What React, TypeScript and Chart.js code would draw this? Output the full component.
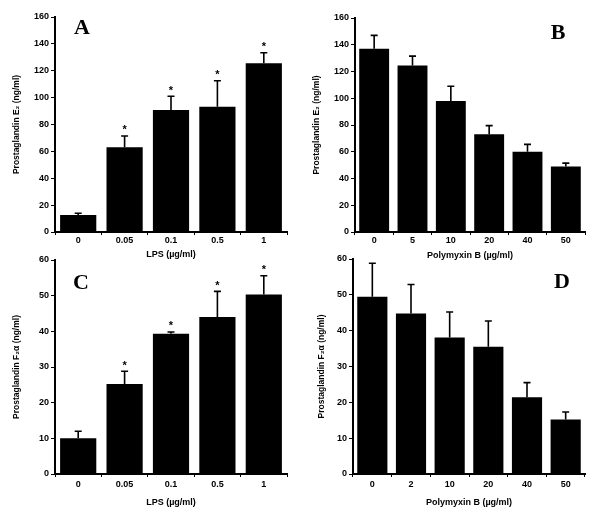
import React, { useEffect, useRef } from "react";
import { Chart, registerables } from "chart.js";

Chart.register(...registerables);

// ---- Data ----
const labelsA = ["0", "0.05", "0.1", "0.5", "1"];
const meanA = [12.6, 63, 90.8, 93.2, 125.5];
const semA = [1.4, 8.4, 10.2, 19.4, 7.9];
const sigA = [false, true, true, true, true];
const ticksA = { max: 160, step: 20 };

const labelsB = ["0", "5", "10", "20", "40", "50"];
const meanB = [137, 124.5, 98, 73, 60, 49];
const semB = [10, 7, 11, 6.5, 5.5, 2.5];
const sigB = [false, false, false, false, false, false];
const ticksB = { max: 160, step: 20 };

const labelsC = ["0", "0.05", "0.1", "0.5", "1"];
const meanC = [10, 25.2, 39.3, 44, 50.3];
const semC = [2, 3.6, 0.5, 7.2, 5.3];
const sigC = [false, true, true, true, true];
const ticksC = { max: 60, step: 10 };

const labelsD = ["0", "2", "10", "20", "40", "50"];
const meanD = [49.5, 44.8, 38.1, 35.5, 21.4, 15.2];
const semD = [9.3, 8.1, 7.1, 7.2, 4.1, 2.1];
const sigD = [false, false, false, false, false, false];
const ticksD = { max: 60, step: 10 };

const FONT = "'Liberation Sans', Arial, sans-serif";

const errorStarsPlugin = {
  id: "errorStars",
  afterDatasetsDraw(chart: any, _args: any, opts: any) {
    const { ctx } = chart;
    const xs = chart.scales.x;
    const ys = chart.scales.y;
    const data = chart.data.datasets[0].data as number[];
    ctx.save();
    ctx.strokeStyle = "#000";
    ctx.fillStyle = "#000";
    ctx.lineWidth = 1.6;
    data.forEach((v: number, i: number) => {
      const x = xs.getPixelForValue(i);
      const yTop = ys.getPixelForValue(v);
      const yErr = ys.getPixelForValue(v + opts.sem[i]);
      ctx.beginPath();
      ctx.moveTo(x, yTop);
      ctx.lineTo(x, yErr);
      ctx.moveTo(x - 3.5, yErr);
      ctx.lineTo(x + 3.5, yErr);
      ctx.stroke();
      if (opts.sig[i]) {
        ctx.font = `bold 11px ${FONT}`;
        ctx.textAlign = "center";
        ctx.textBaseline = "alphabetic";
        ctx.fillText("*", x, yErr - 9 + 6.3);
      }
    });
    ctx.font = `bold 22px 'Liberation Serif', 'Times New Roman', serif`;
    ctx.textAlign = "center";
    ctx.textBaseline = "alphabetic";
    ctx.fillText(opts.letter, opts.lx, opts.ly + 7.3);
    ctx.restore();
  },
};

type Cfg = {
  left: number; top: number; w: number; h: number;
  labels: string[]; mean: number[]; sem: number[]; sig: boolean[];
  yMax: number; step: number;
  xTitle: string; yTitle: string; letter: string; lx: number; ly: number;
  yAxisW: number; xAxisH: number; padR: number; padT: number;
  xTickPad: number; xTitlePadB: number; yTitlePadT: number;
};

function Panel({ cfg }: { cfg: Cfg }) {
  const ref = useRef<HTMLCanvasElement>(null);
  useEffect(() => {
    const tickFont = { family: FONT, size: 9, weight: "bold" as const };
    const xTitleFont = { family: FONT, size: 9, weight: "bold" as const };
    const yTitleFont = { family: FONT, size: 8.5, weight: "bold" as const };
    const chart = new Chart(ref.current as HTMLCanvasElement, {
      type: "bar",
      data: {
        labels: cfg.labels,
        datasets: [
          {
            data: cfg.mean,
            backgroundColor: "#000",
            borderWidth: 0,
            categoryPercentage: 1,
            barPercentage: 0.78,
          },
        ],
      },
      options: {
        responsive: false,
        animation: false,
        devicePixelRatio: 1,
        layout: { padding: { left: 0, right: cfg.padR, top: cfg.padT, bottom: 0 } },
        plugins: {
          legend: { display: false },
          tooltip: { enabled: false },
          // @ts-ignore
          errorStars: { sem: cfg.sem, sig: cfg.sig, letter: cfg.letter, lx: cfg.lx, ly: cfg.ly },
        },
        scales: {
          x: {
            grid: { display: true, drawOnChartArea: false, drawTicks: true, tickLength: 3, color: "#000", lineWidth: 1, offset: true },
            border: { display: true, color: "#000", width: 2 },
            ticks: { color: "#000", font: tickFont, padding: cfg.xTickPad, maxRotation: 0, autoSkip: false },
            title: { display: true, text: cfg.xTitle, color: "#000", font: xTitleFont, padding: { top: 0, bottom: cfg.xTitlePadB } },
            afterFit: (s: any) => { s.height = cfg.xAxisH; },
          },
          y: {
            min: 0,
            max: cfg.yMax,
            grid: { display: true, drawOnChartArea: false, drawTicks: true, tickLength: 4, color: "#000", lineWidth: 1 },
            border: { display: true, color: "#000", width: 2 },
            ticks: { stepSize: cfg.step, color: "#000", font: tickFont, padding: 2 },
            title: { display: true, text: cfg.yTitle, color: "#000", font: yTitleFont, padding: { top: cfg.yTitlePadT, bottom: 0 } },
            afterFit: (s: any) => { s.width = cfg.yAxisW; },
          },
        },
      },
      plugins: [errorStarsPlugin],
    });
    return () => chart.destroy();
  }, []);
  return (
    <canvas
      ref={ref}
      width={cfg.w}
      height={cfg.h}
      style={{ position: "absolute", left: cfg.left, top: cfg.top, width: cfg.w, height: cfg.h }}
    />
  );
}

const panels: Cfg[] = [
  {
    left: 0, top: 0, w: 300, h: 262,
    labels: labelsA, mean: meanA, sem: semA, sig: sigA, yMax: ticksA.max, step: ticksA.step,
    xTitle: "LPS (µg/ml)", yTitle: "Prostaglandin E₂ (ng/ml)", letter: "A", lx: 82, ly: 27,
    yAxisW: 55, xAxisH: 30, padR: 13, padT: 17, xTickPad: 0, xTitlePadB: 2.5, yTitlePadT: 12,
  },
  {
    left: 300, top: 0, w: 301, h: 262,
    labels: labelsB, mean: meanB, sem: semB, sig: sigB, yMax: ticksB.max, step: ticksB.step,
    xTitle: "Polymyxin B (µg/ml)", yTitle: "Prostaglandin E₂ (ng/ml)", letter: "B", lx: 258, ly: 32,
    yAxisW: 55, xAxisH: 30, padR: 16, padT: 18, xTickPad: 0, xTitlePadB: 1.5, yTitlePadT: 12,
  },
  {
    left: 0, top: 250, w: 300, h: 276,
    labels: labelsC, mean: meanC, sem: semC, sig: sigC, yMax: ticksC.max, step: ticksC.step,
    xTitle: "LPS (µg/ml)", yTitle: "Prostaglandin F₂α (ng/ml)", letter: "C", lx: 81, ly: 32,
    yAxisW: 55, xAxisH: 52, padR: 13, padT: 10, xTickPad: 2, xTitlePadB: 18, yTitlePadT: 12,
  },
  {
    left: 300, top: 250, w: 301, h: 276,
    labels: labelsD, mean: meanD, sem: semD, sig: sigD, yMax: ticksD.max, step: ticksD.step,
    xTitle: "Polymyxin B (µg/ml)", yTitle: "Prostaglandin F₂α (ng/ml)", letter: "D", lx: 262, ly: 31,
    yAxisW: 53, xAxisH: 52, padR: 16, padT: 9, xTickPad: 2, xTitlePadB: 18, yTitlePadT: 17,
  },
];

export default function App() {
  return (
    <div style={{ position: "absolute", left: 0, top: 0, width: 601, height: 526, background: "#fff" }}>
      {panels.map((p, i) => (
        <Panel key={i} cfg={p} />
      ))}
    </div>
  );
}
